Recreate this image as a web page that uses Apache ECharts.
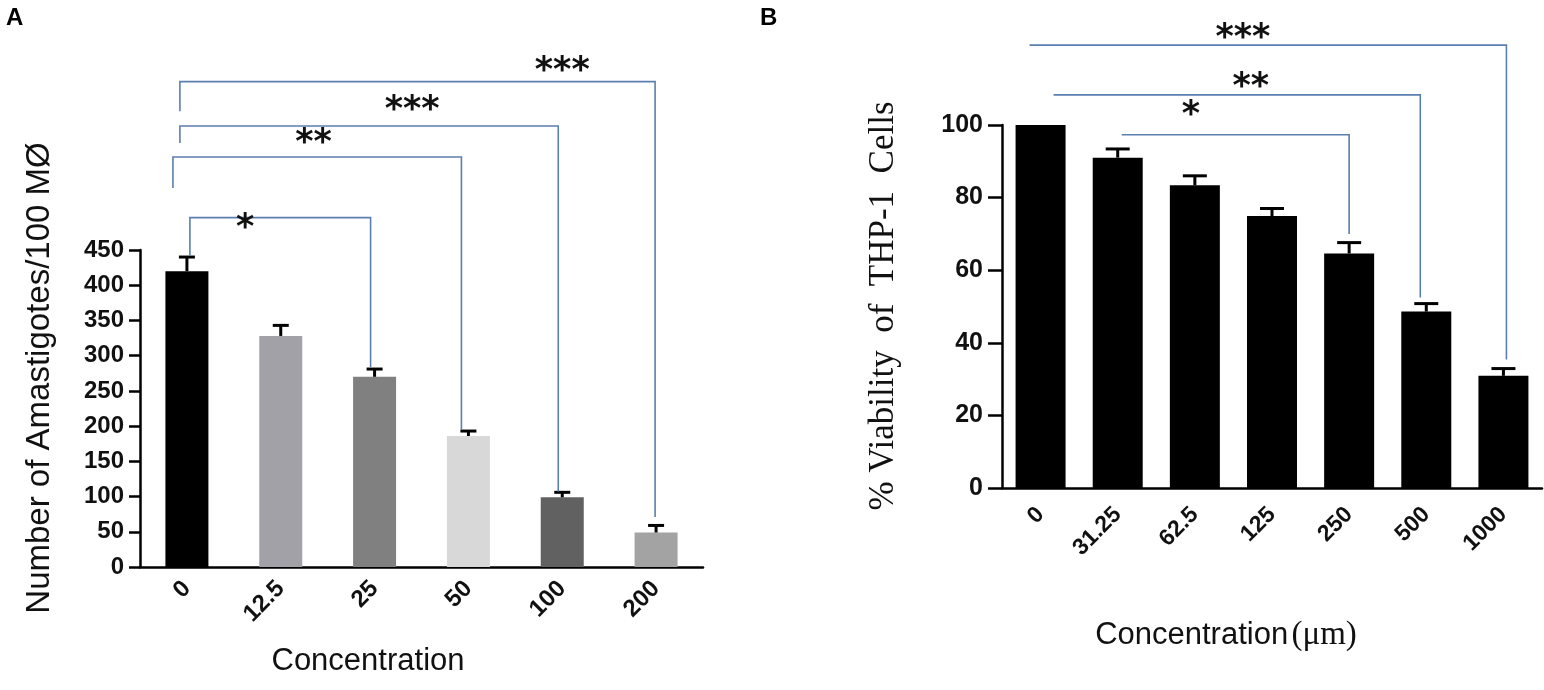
<!DOCTYPE html>
<html>
<head>
<meta charset="utf-8">
<script src="https://cdn.jsdelivr.net/npm/echarts@6/dist/echarts.min.js"></script>
<style>
  html, body { margin: 0; padding: 0; background: #fff; }
  #chart { width: 1544px; height: 690px; }
</style>
</head>
<body>
<div id="chart"></div>
<script>
// ---- Panel A: amastigotes per 100 macrophages ----
var concA = ['0', '12.5', '25', '50', '100', '200'];
var amastigotes = [420, 328, 270, 186, 99, 49];
var amastigotesTop = [440, 343, 281, 193, 106, 59];   // top of error bar
var barColorsA = ['#000000', '#a2a1a8', '#808080', '#d8d8d8', '#616161', '#a3a3a3'];
// significance brackets: [fromIdx, toIdx, level, leftDropEnd, rightDropEnd]
var bracketsA = [[0, 5, 689, 647, 71], [0, 4, 626, 602, 107], [0, 3, 582, 538, 195], [0, 2, 496, 442, 284]];
var starsA = ['***', '***', '**', '*'];

// ---- Panel B: viability of THP-1 cells ----
var concB = ['0', '31.25', '62.5', '125', '250', '500', '1000'];
var viability = [100, 91, 83.4, 74.9, 64.6, 48.6, 30.9];
var viabilityTop = [100, 93.4, 86, 77, 67.6, 50.8, 32.9];
var bracketsB = [[0, 6, 122, 122, 35.4], [0, 5, 108.3, 108.3, 52.5], [1, 4, 97.3, 97.3, 70]];
var starsB = ['***', '**', '*'];

// layout of the brackets: star position (fraction of span, px above line), end nudges in px
var starFracA = [0.80, 0.60, 0.45, 0.31], starLiftA = [18, 23, 21, -3];
var nudgeA = [[-7, -1], [-7, -4], [-14, -7], [3, -4]];
var starFracB = [0.437, 0.545, 0.316], starLiftB = [14, 15, 27];
var nudgeB = [[-11, 3], [13, -6], [4, 0]];

var SANS = 'Liberation Sans, Arial, sans-serif';
var SERIF = 'Liberation Serif, Times New Roman, serif';
var BRACKET_COLOR = '#5b7fae';

function errorItem(capHalf) {
    return function(params, api) {
        if (api.value(2) <= api.value(1)) return null;
        var base = api.coord([api.value(0), api.value(1)]);
        var top = api.coord([api.value(0), api.value(2)]);
        return {
            type: 'group',
            children: [
                { type: 'line', shape: { x1: base[0], y1: base[1], x2: top[0], y2: top[1] },
                  style: { stroke: '#000', lineWidth: 3 } },
                { type: 'line', shape: { x1: top[0] - capHalf, y1: top[1], x2: top[0] + capHalf, y2: top[1] },
                  style: { stroke: '#000', lineWidth: 3 } }
            ]
        };
    };
}

function bracketItem(stars, frac, lift, nudge) {
    return function(params, api) {
        var i = params.dataIndex;
        var a = api.value(0), b = api.value(1);
        var pL = api.coord([a, api.value(2)]);
        var pR = api.coord([b, api.value(2)]);
        var dL = api.coord([a, api.value(3)]);
        var dR = api.coord([b, api.value(4)]);
        var xl = pL[0] + nudge[i][0], xr = pR[0] + nudge[i][1];
        return {
            type: 'group',
            children: [
                { type: 'polyline', shape: { points: [[xl, dL[1]], [xl, pL[1]], [xr, pR[1]], [xr, dR[1]]] },
                  style: { stroke: BRACKET_COLOR, lineWidth: 1.6, fill: null } },
                { type: 'text', x: pL[0] + (pR[0] - pL[0]) * frac[i], y: pL[1] - lift[i] + 8,
                  style: { text: stars[i], fontSize: 35, fontWeight: 'bold', fontFamily: 'DejaVu Sans',
                           fill: '#111', align: 'center', verticalAlign: 'middle' } }
            ]
        };
    };
}

function xAxisCfg(grid, cats, labelMargin, tickLen, fontSize) {
    return {
        type: 'category', gridIndex: grid, data: cats,
        axisLine: { lineStyle: { color: '#000', width: 2.5 } },
        axisTick: { alignWithLabel: true, length: tickLen, lineStyle: { color: '#000', width: 2.5 } },
        axisLabel: { rotate: 45, margin: labelMargin, fontSize: fontSize, fontWeight: 'bold',
                     fontFamily: SANS, color: '#111' }
    };
}

function yAxisCfg(grid, max, interval, labelMargin, tickLen, fontSize) {
    return {
        type: 'value', gridIndex: grid, min: 0, max: max, interval: interval,
        splitLine: { show: false },
        axisLine: { show: true, lineStyle: { color: '#000', width: 2.5 } },
        axisTick: { show: true, length: tickLen, lineStyle: { color: '#000', width: 2.5 } },
        axisLabel: { margin: labelMargin, fontSize: fontSize, fontWeight: 'bold',
                     fontFamily: SANS, color: '#111' }
    };
}

var chart = echarts.init(document.getElementById('chart'));
chart.setOption({
    animation: false,
    backgroundColor: '#fff',
    grid: [
        { left: 140, top: 250, width: 563, height: 317 },
        { left: 1002, top: 125, width: 540, height: 363 }
    ],
    xAxis: [xAxisCfg(0, concA, 18, 10, 24), xAxisCfg(1, concB, 23, 12, 23)],
    yAxis: [yAxisCfg(0, 450, 50, 16, 11, 24), yAxisCfg(1, 100, 20, 19, 14, 25)],
    graphic: [
        { type: 'text', left: 6, top: 6, style: { text: 'A', fontSize: 24, fontWeight: 'bold', fontFamily: SANS, fill: '#000' } },
        { type: 'text', left: 760, top: 6, style: { text: 'B', fontSize: 24, fontWeight: 'bold', fontFamily: SANS, fill: '#000' } },
        { type: 'text', x: 40, y: 378, rotation: Math.PI / 2,
          style: { text: 'Number of Amastigotes/100 MØ', fontSize: 33, fontFamily: SANS, fill: '#111',
                   align: 'center', verticalAlign: 'middle' } },
        { type: 'text', x: 368, y: 661,
          style: { text: 'Concentration', fontSize: 31, fontFamily: SANS, fill: '#111',
                   align: 'center', verticalAlign: 'middle' } },
        { type: 'text', x: 884, y: 306, rotation: Math.PI / 2,
          style: { text: '% Viability  of  THP-1  Cells', fontSize: 35, fontFamily: SERIF, fill: '#111',
                   align: 'center', verticalAlign: 'middle' } },
        { type: 'text', x: 1226, y: 635,
          style: { text: '{a|Concentration} {b|(μm)}', align: 'center', verticalAlign: 'middle',
                   rich: { a: { fontSize: 31, fontFamily: SANS, fill: '#111' },
                           b: { fontSize: 33, fontFamily: SERIF, fill: '#111' } } } }
    ],
    series: [
        {
            type: 'bar', xAxisIndex: 0, yAxisIndex: 0, barWidth: 43,
            data: amastigotes.map(function(v, i) { return { value: v, itemStyle: { color: barColorsA[i] } }; })
        },
        {
            type: 'custom', xAxisIndex: 0, yAxisIndex: 0, z: 5,
            renderItem: errorItem(8),
            encode: { x: 0, y: [1, 2] },
            data: amastigotes.map(function(v, i) { return [i, v, amastigotesTop[i]]; })
        },
        {
            type: 'custom', xAxisIndex: 0, yAxisIndex: 0, z: 6, clip: false,
            renderItem: bracketItem(starsA, starFracA, starLiftA, nudgeA),
            encode: { x: [0, 1], y: [2, 3, 4] },
            data: bracketsA
        },
        {
            type: 'bar', xAxisIndex: 1, yAxisIndex: 1, barWidth: 50,
            itemStyle: { color: '#000' },
            data: viability
        },
        {
            type: 'custom', xAxisIndex: 1, yAxisIndex: 1, z: 5,
            renderItem: errorItem(12),
            encode: { x: 0, y: [1, 2] },
            data: viability.map(function(v, i) { return [i, v, viabilityTop[i]]; })
        },
        {
            type: 'custom', xAxisIndex: 1, yAxisIndex: 1, z: 6, clip: false,
            renderItem: bracketItem(starsB, starFracB, starLiftB, nudgeB),
            encode: { x: [0, 1], y: [2, 3, 4] },
            data: bracketsB
        }
    ]
});
</script>
</body>
</html>
